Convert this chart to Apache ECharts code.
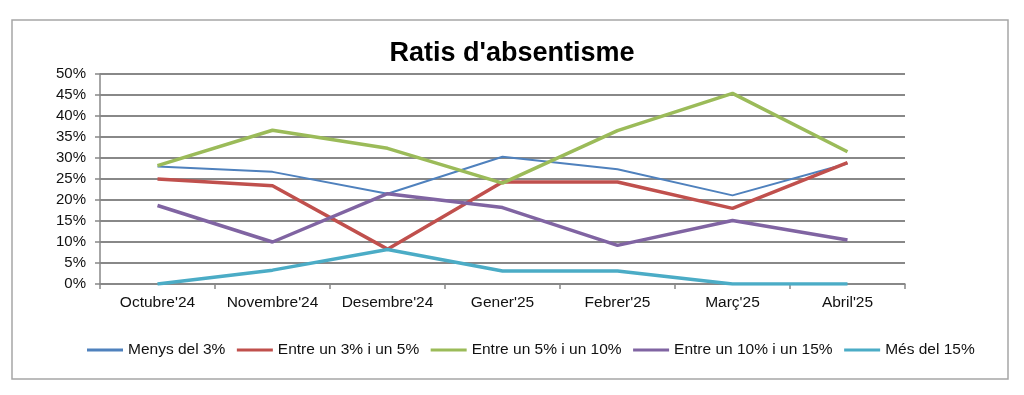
<!DOCTYPE html>
<html>
<head>
<meta charset="utf-8">
<script src="https://cdn.jsdelivr.net/npm/echarts@6/dist/echarts.min.js"></script>
<style>
html,body{margin:0;padding:0;background:#fff;}
#chart{width:1024px;height:395px;}
</style>
</head>
<body>
<div id="chart"></div>
<script>
var categories = ["Octubre'24", "Novembre'24", "Desembre'24", "Gener'25", "Febrer'25", "Març'25", "Abril'25"];
var seriesNames = ["Menys del 3%", "Entre un 3% i un 5%", "Entre un 5% i un 10%", "Entre un 10% i un 15%", "Més del 15%"];
var menysDel3 = [28.0, 26.7, 21.5, 30.3, 27.3, 21.1, 28.7];
var entre3i5 = [25.0, 23.4, 8.3, 24.3, 24.3, 18.0, 28.9];
var entre5i10 = [28.2, 36.6, 32.3, 24.0, 36.5, 45.4, 31.5];
var entre10i15 = [18.7, 10.0, 21.5, 18.2, 9.2, 15.1, 10.5];
var mesDel15 = [0, 3.3, 8.2, 3.1, 3.1, 0, 0];
var yTicks = [0, 5, 10, 15, 20, 25, 30, 35, 40, 45, 50];

var colors = ['#4F81BD', '#C0504D', '#9BBB59', '#8064A2', '#4BACC6'];
var widths = [2, 3.5, 3.5, 3.5, 3.5];
var allData = [menysDel3, entre3i5, entre5i10, entre10i15, mesDel15];
var font = '"Liberation Sans", Arial, sans-serif';

var chart = echarts.init(document.getElementById('chart'), null, {renderer: 'canvas'});
var series = seriesNames.map(function (n, i) {
  return {
    name: n,
    type: 'line',
    data: allData[i],
    symbol: 'none',
    showSymbol: false,
    color: colors[i],
    lineStyle: {width: widths[i], color: colors[i]},
    z: 2 + i
  };
});

chart.setOption({
  animation: false,
  backgroundColor: '#fff',
  color: colors,
  graphic: [{
    type: 'rect',
    shape: {x: 12, y: 20, width: 996, height: 359},
    style: {fill: 'none', stroke: '#a6a6a6', lineWidth: 1.5},
    silent: true,
    z: 0
  }],
  title: {
    text: "Ratis d'absentisme",
    left: 'center',
    top: 35,
    textStyle: {fontFamily: font, fontSize: 27, fontWeight: 'bold', color: '#000'}
  },
  legend: {
    data: seriesNames,
    left: 82,
    top: 337,
    icon: 'rect',
    itemWidth: 36,
    itemHeight: 3,
    itemGap: 11.5,
    textStyle: {fontFamily: font, fontSize: 15.5, color: '#111'}
  },
  grid: {left: 100, right: 119, top: 74, bottom: 111, containLabel: false},
  xAxis: {
    type: 'category',
    data: categories,
    boundaryGap: true,
    axisLine: {lineStyle: {color: '#888', width: 1.5}},
    axisTick: {show: true, interval: 0, length: 5, lineStyle: {color: '#888', width: 1.5}},
    axisLabel: {fontFamily: font, fontSize: 15.5, color: '#111', margin: 11, interval: 0}
  },
  yAxis: {
    type: 'value',
    min: yTicks[0],
    max: yTicks[yTicks.length - 1],
    interval: yTicks[1] - yTicks[0],
    axisLine: {show: true, lineStyle: {color: '#888', width: 1.5}},
    axisTick: {show: true, length: 5, lineStyle: {color: '#888', width: 1.5}},
    splitLine: {show: true, lineStyle: {color: '#888', width: 1.8}},
    axisLabel: {fontFamily: font, fontSize: 15, color: '#111', margin: 14, formatter: '{value}%'}
  },
  series: series
});
</script>
</body>
</html>
